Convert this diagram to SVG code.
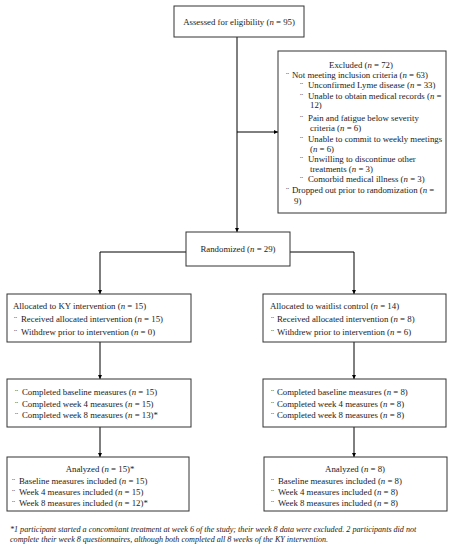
<svg xmlns="http://www.w3.org/2000/svg" width="453" height="550" viewBox="0 0 453 550">
<defs>
<marker id="ah" viewBox="0 0 10 10" refX="10" refY="5" markerWidth="4" markerHeight="4" orient="auto" markerUnits="userSpaceOnUse">
<path d="M0,0 L10,5 L0,10 z" fill="#000"/>
</marker>
<style>
.box{fill:#fff;stroke:#333;stroke-width:1}
text{font-family:"Liberation Serif","Times New Roman",serif;font-size:8.8px;fill:#222}
.c{text-anchor:middle}
.fn{font-style:italic;font-size:8.1px}
.conn{fill:none;stroke:#000;stroke-width:1;marker-end:url(#ah)}
</style>
</defs>
<rect width="453" height="550" fill="#fff"/>
<g id="connectors">
<path class="conn" d="M237,37 V232"/>
<path class="conn" d="M237,132 H278"/>
<path class="conn" d="M186,252 H100 V294"/>
<path class="conn" d="M290,252 H354 V294"/>
<path class="conn" d="M100,342 V379"/>
<path class="conn" d="M354,342 V379"/>
<path class="conn" d="M100,427 V457"/>
<path class="conn" d="M354,427 V457"/>
</g>
<g id="assessed">
<rect class="box" x="174" y="6" width="130" height="31"/>
<text class="c" x="239" y="25">Assessed for eligibility (<tspan font-style="italic">n</tspan> = 95)</text>
</g>
<g id="excluded">
<rect class="box" x="278" y="51" width="168" height="162"/>
<text class="c" x="361" y="68">Excluded (<tspan font-style="italic">n</tspan> = 72)</text>
<text x="286" y="78">¨</text><text x="292" y="78">Not meeting inclusion criteria (<tspan font-style="italic">n</tspan> = 63)</text>
<text x="300" y="88">¨</text><text x="308" y="88">Unconfirmed Lyme disease (<tspan font-style="italic">n</tspan> = 33)</text>
<text x="300" y="99">¨</text><text x="308" y="99">Unable to obtain medical records (<tspan font-style="italic">n</tspan> =</text>
<text x="310" y="108">12)</text>
<text x="300" y="121">¨</text><text x="308" y="121">Pain and fatigue below severity</text>
<text x="310" y="131">criteria (<tspan font-style="italic">n</tspan> = 6)</text>
<text x="300" y="142">¨</text><text x="308" y="142">Unable to commit to weekly meetings</text>
<text x="310" y="152">(<tspan font-style="italic">n</tspan> = 6)</text>
<text x="300" y="162">¨</text><text x="308" y="162">Unwilling to discontinue other</text>
<text x="310" y="172">treatments (<tspan font-style="italic">n</tspan> = 3)</text>
<text x="300" y="182">¨</text><text x="308" y="182">Comorbid medical illness (<tspan font-style="italic">n</tspan> = 3)</text>
<text x="286" y="193">¨</text><text x="292" y="193">Dropped out prior to randomization (<tspan font-style="italic">n</tspan> =</text>
<text x="294" y="204">9)</text>
</g>
<g id="randomized">
<rect class="box" x="186" y="232" width="104" height="34"/>
<text class="c" x="238" y="252">Randomized (<tspan font-style="italic">n</tspan> = 29)</text>
</g>
<g id="allocated-ky">
<rect class="box" x="7" y="294" width="184" height="48"/>
<text x="13" y="309">Allocated to KY intervention (<tspan font-style="italic">n</tspan> = 15)</text>
<text x="14" y="322">¨</text><text x="21" y="322">Received allocated intervention (<tspan font-style="italic">n</tspan> = 15)</text>
<text x="14" y="335">¨</text><text x="21" y="335">Withdrew prior to intervention (<tspan font-style="italic">n</tspan> = 0)</text>
</g>
<g id="allocated-waitlist">
<rect class="box" x="263" y="294" width="183" height="48"/>
<text x="270" y="309">Allocated to waitlist control (<tspan font-style="italic">n</tspan> = 14)</text>
<text x="271" y="322">¨</text><text x="277" y="322">Received allocated intervention (<tspan font-style="italic">n</tspan> = 8)</text>
<text x="271" y="335">¨</text><text x="277" y="335">Withdrew prior to intervention (<tspan font-style="italic">n</tspan> = 6)</text>
</g>
<g id="measures-ky">
<rect class="box" x="7" y="379" width="184" height="48"/>
<text x="15" y="395">¨</text><text x="22" y="395">Completed baseline measures (<tspan font-style="italic">n</tspan> = 15)</text>
<text x="15" y="406.5">¨</text><text x="22" y="406.5">Completed week 4 measures (<tspan font-style="italic">n</tspan> = 15)</text>
<text x="15" y="418">¨</text><text x="22" y="418">Completed week 8 measures (<tspan font-style="italic">n</tspan> = 13)*</text>
</g>
<g id="measures-waitlist">
<rect class="box" x="263" y="379" width="183" height="48"/>
<text x="271" y="395">¨</text><text x="277" y="395">Completed baseline measures (<tspan font-style="italic">n</tspan> = 8)</text>
<text x="271" y="406.5">¨</text><text x="277" y="406.5">Completed week 4 measures (<tspan font-style="italic">n</tspan> = 8)</text>
<text x="271" y="418">¨</text><text x="277" y="418">Completed week 8 measures (<tspan font-style="italic">n</tspan> = 8)</text>
</g>
<g id="analyzed-ky">
<rect class="box" x="7" y="457" width="182" height="54"/>
<text class="c" x="100" y="472">Analyzed (<tspan font-style="italic">n</tspan> = 15)*</text>
<text x="12" y="484">¨</text><text x="19" y="484">Baseline measures included (<tspan font-style="italic">n</tspan> = 15)</text>
<text x="12" y="495">¨</text><text x="19" y="495">Week 4 measures included (<tspan font-style="italic">n</tspan> = 15)</text>
<text x="12" y="506">¨</text><text x="19" y="506">Week 8 measures included (<tspan font-style="italic">n</tspan> = 12)*</text>
</g>
<g id="analyzed-waitlist">
<rect class="box" x="264" y="457" width="183" height="54"/>
<text class="c" x="355" y="472">Analyzed (<tspan font-style="italic">n</tspan> = 8)</text>
<text x="271" y="484">¨</text><text x="278" y="484">Baseline measures included (<tspan font-style="italic">n</tspan> = 8)</text>
<text x="271" y="495">¨</text><text x="278" y="495">Week 4 measures included (<tspan font-style="italic">n</tspan> = 8)</text>
<text x="271" y="506">¨</text><text x="278" y="506">Week 8 measures included (<tspan font-style="italic">n</tspan> = 8)</text>
</g>
<g id="footnote">
<text class="fn" x="10" y="531.5">*1 participant started a concomitant treatment at week 6 of the study; their week 8 data were excluded. 2 participants did not</text>
<text class="fn" x="10" y="541.5">complete their week 8 questionnaires, although both completed all 8 weeks of the KY intervention.</text>
</g>
</svg>
